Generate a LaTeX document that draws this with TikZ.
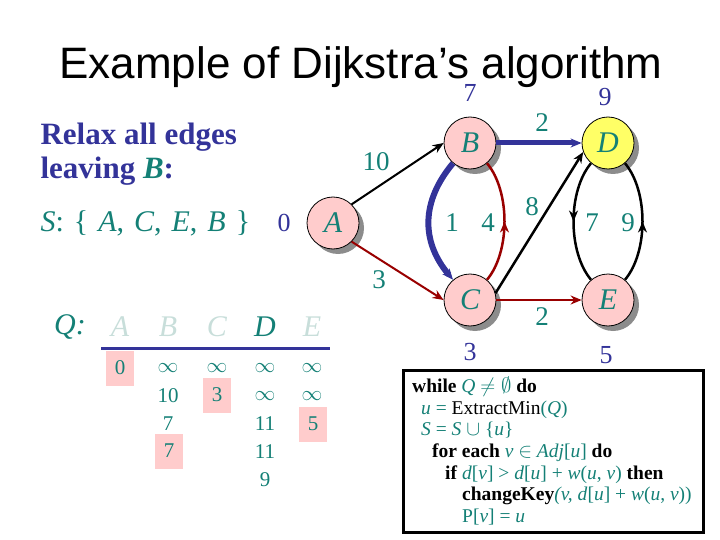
\documentclass[tikz,border=0pt]{standalone}
\usepackage{fontspec}
\setmainfont{Liberation Serif}
\newfontfamily\titlefont{Liberation Sans}
\usetikzlibrary{arrows.meta,shadows,decorations.markings}
\definecolor{navy}{RGB}{51,51,153}
\definecolor{tealtext}{RGB}{20,128,118}
\definecolor{darkred}{RGB}{153,0,0}
\definecolor{nodepink}{RGB}{255,204,204}
\definecolor{dyellow}{RGB}{255,255,102}
\definecolor{fadedq}{RGB}{200,222,218}

\begin{document}
\begin{tikzpicture}[x=1pt, y=-1pt, >={Stealth[length=11pt,width=9pt]},
  vert/.style={circle, draw, line width=0.8pt, fill=nodepink, minimum size=52pt, inner sep=0pt,
    font=\fontsize{30}{30}\selectfont\itshape, text=tealtext,
    drop shadow={shadow xshift=5pt, shadow yshift=-5pt, fill=gray!90, opacity=1}},
  dist/.style={font=\fontsize{26}{26}\selectfont, text=navy},
  wt/.style={font=\fontsize{27}{27}\selectfont, text=tealtext},
  qhead/.style={font=\fontsize{30}{30}\selectfont\itshape, text=fadedq},
  qval/.style={font=\fontsize{21}{21}\selectfont, text=tealtext, inner sep=0pt, minimum width=28pt, minimum height=35pt},
  picked/.style={qval, fill=nodepink},
  codeline/.style={anchor=base west, inner sep=0pt, font=\fontsize{19.5}{19.5}\selectfont},
  midarrow/.style={postaction={decorate}, decoration={markings, mark=at position 0.5 with {\arrow{>}}}}]
  \useasboundingbox (0,0) rectangle (720,540);

  \node[anchor=base, font=\titlefont\fontsize{44}{44}\selectfont] (title) at (361,79) {Example of Dijkstra’s algorithm};

  \node[anchor=base west, font=\fontsize{31}{31}\selectfont\bfseries, text=navy] (relax) at (37,145) {Relax all edges};
  \node[anchor=base west, font=\fontsize{31}{31}\selectfont\bfseries, text=navy] (leave) at (37,179) {leaving \textcolor{tealtext}{\textit{B}}:};
  \node[anchor=base west, font=\fontsize{30}{30}\selectfont, text=tealtext] (sset) at (37,232) {\spaceskip=10pt\relax \textit{S}: \{ \textit{A}, \textit{C}, \textit{E}, \textit{B} \}};

  \node[vert] (A) at (333,223) {A};
  \node[vert] (B) at (470,143) {B};
  \node[vert] (C) at (470,300) {C};
  \node[vert, fill=dyellow] (D) at (608,143) {D};
  \node[vert] (E) at (608,300) {E};

  \draw[->, line width=2pt] (A.45) -- (B.180);
  \draw[->, line width=2pt, darkred] (A.-45) -- (C.180);
  \draw[->, line width=5pt, navy] (B) -- (D);
  \draw[->, line width=6pt, navy] (B) to[out=230, in=130, looseness=1.1] (C);
  \draw[midarrow, line width=2.5pt, darkred] (C) to[out=50, in=-50, looseness=0.8] (B);
  \draw[->, line width=2.5pt] (C.15) -- (D.200);
  \draw[->, line width=2pt, darkred] (C) -- (E);
  \draw[midarrow, line width=2.5pt] (D) to[out=230, in=130, looseness=0.8] (E);
  \draw[midarrow, line width=2.5pt] (E) to[out=50, in=-50, looseness=0.8] (D);

  \node[dist, anchor=base] (dA) at (284,232) {0};
  \node[dist] (dB) at (470,93) {7};
  \node[dist] (dC) at (470,352) {3};
  \node[dist] (dD) at (605,97) {9};
  \node[dist] (dE) at (606,355) {5};

  \node[wt] (wAB) at (376,162) {10};
  \node[wt] (wAC) at (379,280) {3};
  \node[wt] (wBD) at (542,123) {2};
  \node[wt] (wBC) at (452,223) {1};
  \node[wt] (wCB) at (488,223) {4};
  \node[wt] (wCD) at (532,207) {8};
  \node[wt] (wDE) at (592,223) {7};
  \node[wt] (wED) at (628,223) {9};
  \node[wt] (wCE) at (542,317) {2};

  \node[qhead, text=tealtext] (qQ) at (70,327) {Q:};
  \node[qhead] (qA) at (120,327) {A};
  \node[qhead] (qB) at (168,327) {B};
  \node[qhead] (qC) at (217,327) {C};
  \node[qhead, text=tealtext] (qD) at (265,327) {D};
  \node[qhead] (qE) at (312,327) {E};
  \draw[navy, line width=3pt] (101,348) -- (330,348);

  \node[picked] (vA1) at (120,368) {0};
  \node[qval] (vB1) at (168,368) {$\infty$};
  \node[qval] (vC1) at (217,368) {$\infty$};
  \node[qval] (vD1) at (265,368) {$\infty$};
  \node[qval] (vE1) at (312,368) {$\infty$};
  \node[qval] (vB2) at (168,396) {10};
  \node[picked] (vC2) at (217,395) {3};
  \node[qval] (vD2) at (265,396) {$\infty$};
  \node[qval] (vE2) at (312,396) {$\infty$};
  \node[qval] (vB3) at (168,424) {7};
  \node[qval] (vD3) at (265,424) {11};
  \node[picked] (vE3) at (313,424) {5};
  \node[picked] (vB4) at (169,451) {7};
  \node[qval] (vD4) at (265,452) {11};
  \node[qval] (vD5) at (265,480) {9};

  \draw[line width=3pt] (403,370) rectangle (703,532);
  \node[codeline] (c1) at (412,392) {\textbf{while} \textcolor{tealtext}{\textit{Q} $\neq\emptyset$} \textbf{do}};
  \node[codeline] (c2) at (421,414) {\textcolor{tealtext}{\textit{u} =} ExtractMin\textcolor{tealtext}{(\textit{Q})}};
  \node[codeline] (c3) at (421,435) {\textcolor{tealtext}{\textit{S} = \textit{S} $\cup$ \{\textit{u}\}}};
  \node[codeline] (c4) at (432,457) {\textbf{for each} \textcolor{tealtext}{\textit{v} $\in$ \textit{Adj}[\textit{u}]} \textbf{do}};
  \node[codeline] (c5) at (445,479) {\textbf{if} \textcolor{tealtext}{\textit{d}[\textit{v}] > \textit{d}[\textit{u}] + \textit{w}(\textit{u}, \textit{v})} \textbf{then}};
  \node[codeline] (c6) at (462,500) {\textbf{changeKey}\textcolor{tealtext}{\textit{(v, d}[\textit{u}] + \textit{w}(\textit{u}, \textit{v}))}};
  \node[codeline] (c7) at (462,522) {\textcolor{tealtext}{P[\textit{v}] = \textit{u}}};
\end{tikzpicture}
\end{document}
